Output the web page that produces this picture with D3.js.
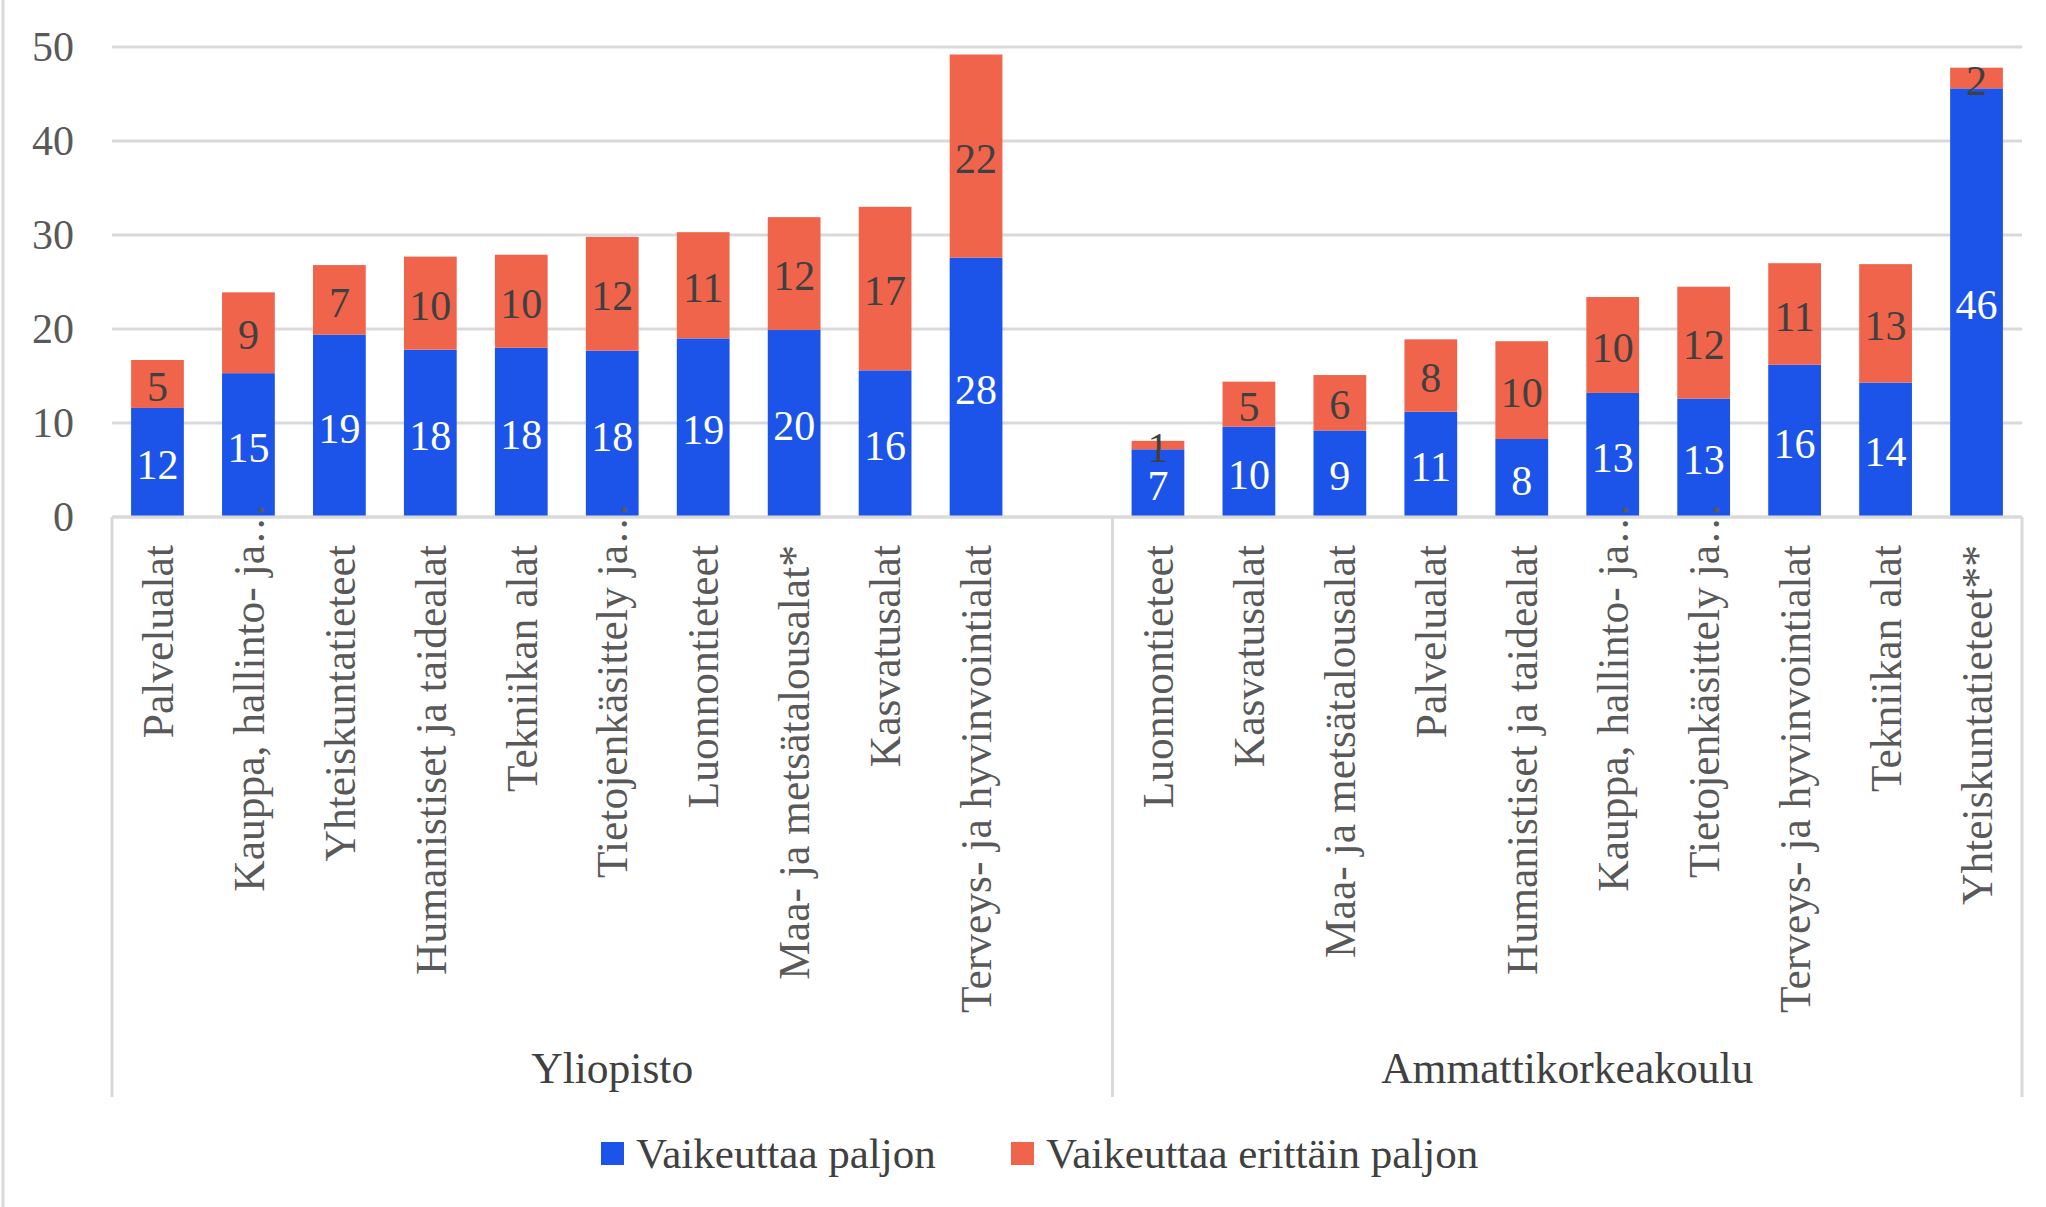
<!DOCTYPE html>
<html>
<head>
<meta charset="utf-8">
<script src="https://cdn.jsdelivr.net/npm/d3@7"></script>
<style>
  html, body { margin: 0; padding: 0; background: #fff; }
  svg text { font-family: "Liberation Serif", "DejaVu Serif", serif; }
</style>
</head>
<body>
<div id="chart"></div>
<script>
// data
const groups = ["Yliopisto", "Ammattikorkeakoulu"];
const seriesNames = ["Vaikeuttaa paljon", "Vaikeuttaa erittäin paljon"];

const uniCategories = ["Palvelualat", "Kauppa, hallinto- ja…", "Yhteiskuntatieteet", "Humanistiset ja taidealat",
  "Tekniikan alat", "Tietojenkäsittely ja…", "Luonnontieteet", "Maa- ja metsätalousalat*", "Kasvatusalat",
  "Terveys- ja hyvinvointialat"];
const uniPaljon = [11.6, 15.3, 19.4, 17.8, 18.0, 17.7, 19.0, 19.9, 15.6, 27.6];
const uniErittain = [5.1, 8.6, 7.4, 9.9, 9.9, 12.1, 11.3, 12.0, 17.4, 21.6];

const amkCategories = ["Luonnontieteet", "Kasvatusalat", "Maa- ja metsätalousalat", "Palvelualat",
  "Humanistiset ja taidealat", "Kauppa, hallinto- ja…", "Tietojenkäsittely ja…", "Terveys- ja hyvinvointialat",
  "Tekniikan alat", "Yhteiskuntatieteet**"];
const amkPaljon = [7.2, 9.6, 9.2, 11.2, 8.3, 13.2, 12.6, 16.2, 14.3, 45.6];
const amkErittain = [0.9, 4.8, 5.9, 7.7, 10.4, 10.2, 11.9, 10.8, 12.6, 2.2];

const yTicks = [0, 10, 20, 30, 40, 50];

const colors = ["#1c54e9", "#f0644b"];

// table for the stack; one empty slot after the first group (as in the original)
const rows = [];
uniCategories.forEach((c, i) => rows.push({ key: "u" + i, group: 0, label: c, p: uniPaljon[i], e: uniErittain[i] }));
rows.push({ key: "gap", group: 0, label: "", p: 0, e: 0, empty: true });
amkCategories.forEach((c, i) => rows.push({ key: "a" + i, group: 1, label: c, p: amkPaljon[i], e: amkErittain[i] }));

const width = 2046, height = 1207;
const plotLeft = 112, plotRight = 2022, plotTop = 47, plotBase = 517;

const svg = d3.select("#chart").append("svg")
  .attr("width", width)
  .attr("height", height);

const x = d3.scaleBand()
  .domain(rows.map(d => d.key))
  .range([plotLeft, plotRight])
  .paddingInner(0.42)
  .paddingOuter(0.21);

const y = d3.scaleLinear().domain([0, 50]).range([plotBase, plotTop]);

// chart border (left edge only visible)
svg.append("line")
  .attr("x1", 3).attr("x2", 3).attr("y1", 0).attr("y2", height)
  .attr("stroke", "#d9d9d9").attr("stroke-width", 3);

// gridlines
svg.append("g").selectAll("line")
  .data(yTicks)
  .enter().append("line")
  .attr("x1", plotLeft).attr("x2", plotRight)
  .attr("y1", d => y(d)).attr("y2", d => y(d))
  .attr("stroke", "#d9d9d9")
  .attr("stroke-width", 3);

// y labels
svg.append("g").selectAll("text")
  .data(yTicks)
  .enter().append("text")
  .attr("x", 74)
  .attr("y", d => y(d) - 1)
  .attr("dy", "0.35em")
  .attr("text-anchor", "end")
  .attr("fill", "#595959")
  .style("font-size", "42px")
  .text(d => d);

// stacked bars
const stack = d3.stack().keys(["p", "e"]);
const layers = stack(rows.filter(d => !d.empty));

const layerG = svg.append("g").selectAll("g")
  .data(layers)
  .enter().append("g")
  .attr("fill", (d, i) => colors[i]);

layerG.selectAll("rect")
  .data(d => d)
  .enter().append("rect")
  .attr("x", d => x(d.data.key))
  .attr("width", x.bandwidth())
  .attr("y", d => y(d[1]))
  .attr("height", d => y(d[0]) - y(d[1]));

// data labels
layers.forEach((layer, li) => {
  svg.append("g").selectAll("text")
    .data(layer)
    .enter().append("text")
    .attr("x", d => x(d.data.key) + x.bandwidth() / 2)
    .attr("y", d => y((d[0] + d[1]) / 2) + 2)
    .attr("dy", "0.35em")
    .attr("text-anchor", "middle")
    .attr("fill", li === 0 ? "#ffffff" : "#404040")
    .style("font-size", "42px")
    .text(d => Math.round(d[1] - d[0]));
});

// category axis lines
const axisG = svg.append("g").attr("stroke", "#d9d9d9").attr("stroke-width", 3);
axisG.append("line")
  .attr("x1", plotLeft).attr("x2", plotRight).attr("y1", plotBase).attr("y2", plotBase);
const sepX = [plotLeft, x("gap") + x.step() * (1 - 0.21), plotRight];
sepX.forEach(sx => {
  axisG.append("line")
    .attr("x1", sx).attr("x2", sx).attr("y1", plotBase).attr("y2", 1097);
});

// rotated category labels
const labelY = 545;
const catG = svg.append("g").selectAll("g")
  .data(rows.filter(d => !d.empty))
  .enter().append("g")
  .attr("transform", d => "translate(" + (x(d.key) + x.bandwidth() / 2) + "," + labelY + ") rotate(-90)");

catG.append("text")
  .attr("text-anchor", "end")
  .attr("dy", "0.35em")
  .attr("fill", "#595959")
  .style("font-size", "43.5px")
  .text(d => d.label.replace("…", ""));

catG.filter(d => d.label.endsWith("…"))
  .append("text")
  .attr("text-anchor", "start")
  .attr("dy", "0.35em")
  .attr("x", 2)
  .attr("fill", "#595959")
  .style("font-size", "43.5px")
  .style("letter-spacing", "3px")
  .text("...");

// group labels
svg.append("g").selectAll("text")
  .data(groups)
  .enter().append("text")
  .attr("x", (d, i) => (sepX[i] + sepX[i + 1]) / 2)
  .attr("y", 1083)
  .attr("text-anchor", "middle")
  .attr("fill", "#404040")
  .style("font-size", "43.5px")
  .text(d => d);

// legend
const legendX = [601, 1011];
const legend = svg.append("g").selectAll("g")
  .data(seriesNames)
  .enter().append("g")
  .attr("transform", (d, i) => "translate(" + legendX[i] + ",1142)");

legend.append("rect")
  .attr("width", 23).attr("height", 23)
  .attr("fill", (d, i) => colors[i]);

legend.append("text")
  .attr("x", 35)
  .attr("y", 26)
  .attr("fill", "#404040")
  .style("font-size", "43px")
  .text(d => d);
</script>
</body>
</html>
